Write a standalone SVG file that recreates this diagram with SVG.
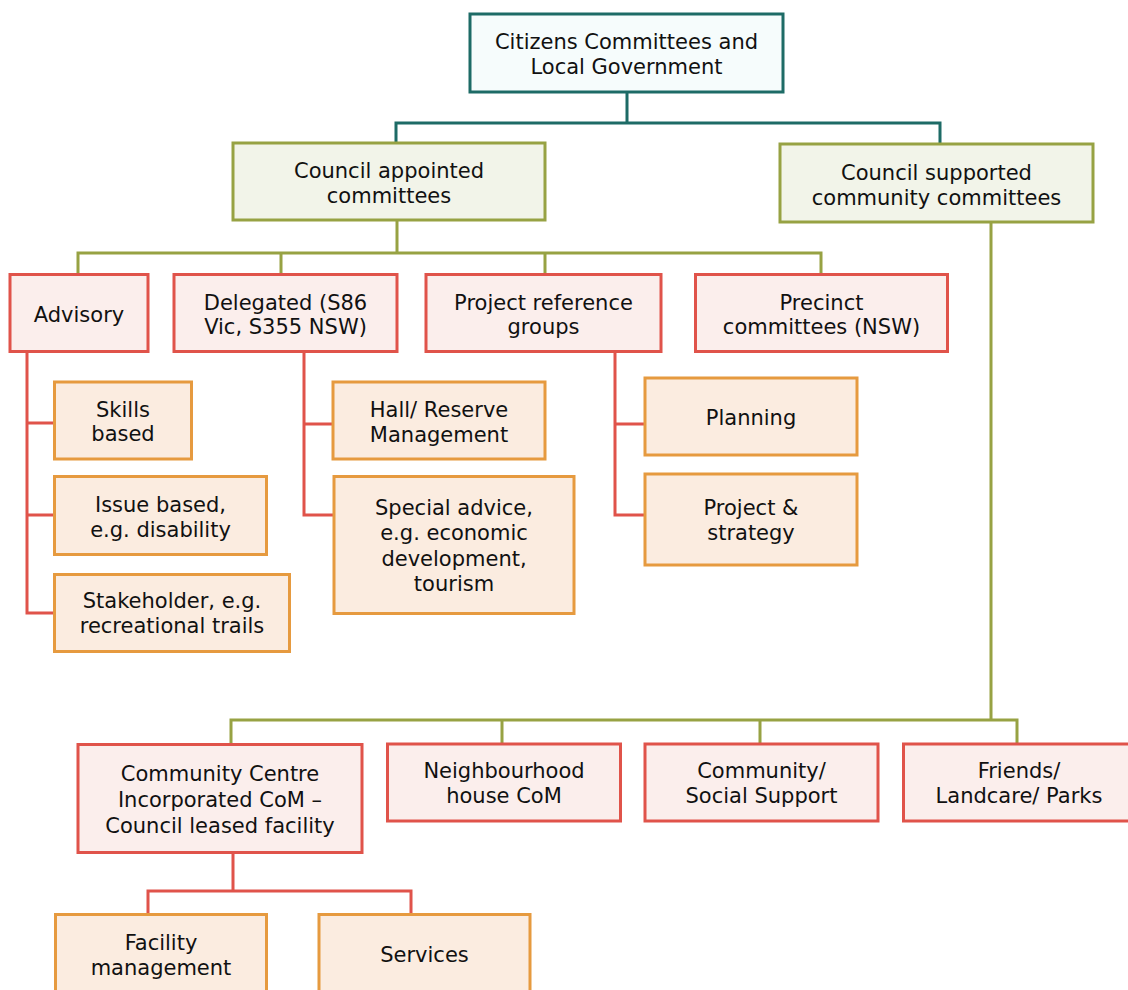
<svg xmlns="http://www.w3.org/2000/svg" width="1128" height="990" viewBox="0 0 1128 990">
<style>
text{font-family:"DejaVu Sans","Verdana",sans-serif;font-size:21px;fill:#111;text-anchor:middle}
.teal{fill:#f6fcfc;stroke:#1d6b66;stroke-width:3}
.olive{fill:#f2f4e9;stroke:#97a243;stroke-width:3}
.red{fill:#fbeeec;stroke:#e0534a;stroke-width:3}
.orange{fill:#fbece0;stroke:#e69a3f;stroke-width:3}
.c{fill:none;stroke-width:3}
</style>
<rect width="1128" height="990" fill="#fff"/>
<g id="connectors">
<path class="c" stroke="#1d6b66" d="M627,93 V123 M396,143 V123 H940 V144"/>
<path class="c" stroke="#97a243" d="M397,220 V253 M78,274 V253 H821 V274 M281,253 V274 M545,253 V274"/>
<path class="c" stroke="#97a243" d="M991,222 V720 M231,743 V720 H1017 V743 M502,720 V743 M760,720 V743"/>
<path class="c" stroke="#e0534a" d="M27,352 V613 H54 M27,423 H54 M27,515 H54"/>
<path class="c" stroke="#e0534a" d="M304,352 V515 H333 M304,424 H333"/>
<path class="c" stroke="#e0534a" d="M615,352 V515 H645 M615,424 H645"/>
<path class="c" stroke="#e0534a" d="M233,853 V891 M148,914 V891 H411 V914"/>
</g>
<g id="root"><rect class="teal" x="470" y="14" width="313" height="78"/><text x="626.5" y="49">Citizens Committees and</text><text x="626.5" y="74">Local Government</text></g>
<g id="council-appointed"><rect class="olive" x="233" y="143" width="312" height="77"/><text x="389" y="178">Council appointed</text><text x="389" y="203">committees</text></g>
<g id="council-supported"><rect class="olive" x="780" y="144" width="313" height="78"/><text x="936.5" y="180">Council supported</text><text x="936.5" y="205">community committees</text></g>
<g id="advisory"><rect class="red" x="10" y="274.5" width="138" height="77"/><text x="79" y="322">Advisory</text></g>
<g id="delegated"><rect class="red" x="174" y="274.5" width="223" height="77"/><text x="285.5" y="310">Delegated (S86</text><text x="285.5" y="334">Vic, S355 NSW)</text></g>
<g id="project-reference"><rect class="red" x="426" y="274.5" width="235" height="77"/><text x="543.5" y="310">Project reference</text><text x="543.5" y="334">groups</text></g>
<g id="precinct"><rect class="red" x="695.5" y="274.5" width="252" height="77"/><text x="821.5" y="310">Precinct</text><text x="821.5" y="334">committees (NSW)</text></g>
<g id="skills"><rect class="orange" x="54.5" y="382" width="137" height="77"/><text x="123" y="417">Skills</text><text x="123" y="441">based</text></g>
<g id="issue"><rect class="orange" x="54.5" y="476.5" width="212" height="78"/><text x="160.5" y="512">Issue based,</text><text x="160.5" y="537">e.g. disability</text></g>
<g id="stakeholder"><rect class="orange" x="54.5" y="574.5" width="235" height="77"/><text x="172" y="608">Stakeholder, e.g.</text><text x="172" y="633">recreational trails</text></g>
<g id="hall"><rect class="orange" x="333" y="382" width="212" height="77"/><text x="439" y="417">Hall/ Reserve</text><text x="439" y="442">Management</text></g>
<g id="special"><rect class="orange" x="334" y="476.5" width="240" height="137"/><text x="454" y="515">Special advice,</text><text x="454" y="540">e.g. economic</text><text x="454" y="566">development,</text><text x="454" y="591">tourism</text></g>
<g id="planning"><rect class="orange" x="645" y="378" width="212" height="77"/><text x="751" y="425">Planning</text></g>
<g id="project-strategy"><rect class="orange" x="645" y="474" width="212" height="91"/><text x="751" y="515">Project &amp;</text><text x="751" y="540">strategy</text></g>
<g id="community-centre"><rect class="red" x="78" y="744.5" width="284" height="108"/><text x="220" y="781">Community Centre</text><text x="220" y="807">Incorporated CoM –</text><text x="220" y="833">Council leased facility</text></g>
<g id="neighbourhood"><rect class="red" x="387.5" y="744" width="233" height="77"/><text x="504" y="778">Neighbourhood</text><text x="504" y="803">house CoM</text></g>
<g id="community-social"><rect class="red" x="645" y="744" width="233" height="77"/><text x="761.5" y="778">Community/</text><text x="761.5" y="803">Social Support</text></g>
<g id="friends"><rect class="red" x="903.5" y="744" width="232" height="77"/><text x="1019" y="778">Friends/</text><text x="1019" y="803">Landcare/ Parks</text></g>
<g id="facility"><rect class="orange" x="55.5" y="914.5" width="211" height="90"/><text x="161" y="950">Facility</text><text x="161" y="975">management</text></g>
<g id="services"><rect class="orange" x="319" y="914.5" width="211" height="90"/><text x="424.5" y="962">Services</text></g>
</svg>
